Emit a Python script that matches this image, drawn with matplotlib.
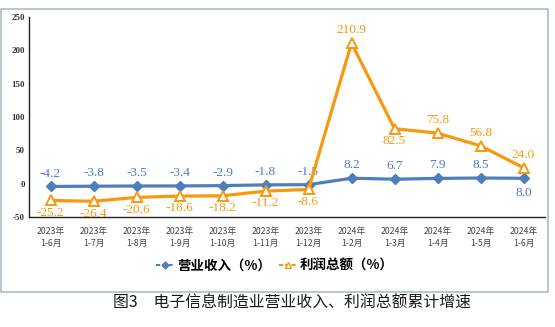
import matplotlib
matplotlib.use("Agg")
import matplotlib.pyplot as plt
from matplotlib.patches import Rectangle
from matplotlib.lines import Line2D

categories = ["2023年\n1-6月", "2023年\n1-7月", "2023年\n1-8月", "2023年\n1-9月", "2023年\n1-10月",
              "2023年\n1-11月", "2023年\n1-12月", "2024年\n1-2月", "2024年\n1-3月", "2024年\n1-4月",
              "2024年\n1-5月", "2024年\n1-6月"]
revenue = [-4.2, -3.8, -3.5, -3.4, -2.9, -1.8, -1.5, 8.2, 6.7, 7.9, 8.5, 8.0]
profit = [-25.2, -26.4, -20.6, -18.6, -18.2, -11.2, -8.6, 210.9, 82.5, 75.8, 56.8, 24.0]
revenue_label_pos = ["up"] * 11 + ["down"]
profit_label_pos = ["down"] * 7 + ["up", "down", "up", "up", "up"]
yticks = [-50, 0, 50, 100, 150, 200, 250]
series_names = ["营业收入（%）", "利润总额（%）"]
caption = "图3　电子信息制造业营业收入、利润总额累计增速"

plt.rcParams['font.family'] = ['Noto Sans CJK SC', 'DejaVu Sans']

W, H = 555, 327
fig = plt.figure(figsize=(W / 100, H / 100), dpi=100)
fig.patch.set_facecolor("white")

# outer box
fig.patches.append(Rectangle((1 / W, 1 - 292 / H), 547 / W, 283 / H, transform=fig.transFigure,
                             fill=False, edgecolor="#A9BCD0", linewidth=1.2))

ax = fig.add_axes([29 / W, 1 - 217 / H, 516 / W, 200 / H])
blue = "#4F7EBD"
orange = "#F7980F"
x = list(range(len(categories)))

ax.plot(x, revenue, color=blue, linewidth=2.3, marker="D", markersize=5,
        markerfacecolor=blue, markeredgecolor=blue, zorder=3)
ax.plot(x, profit, color=orange, linewidth=2.3, marker="^", markersize=7.5,
        markerfacecolor="white", markeredgecolor=orange, markeredgewidth=1.4, zorder=4)

for xi, v, p in zip(x, revenue, revenue_label_pos):
    off = 5 if p == "up" else -6
    ax.annotate(f"{v:.1f}", (xi, v), xytext=(0, off), textcoords="offset points",
                ha="center", va="bottom" if p == "up" else "top", color=blue,
                fontsize=9.5, family="Liberation Serif")
for xi, v, p in zip(x, profit, profit_label_pos):
    off = 5 if p == "up" else -4.5
    ax.annotate(f"{v:.1f}", (xi, v), xytext=(0, off), textcoords="offset points",
                ha="center", va="bottom" if p == "up" else "top", color=orange,
                fontsize=9.5, family="Liberation Serif")

ax.set_xlim(-0.5, len(categories) - 0.5)
ax.set_ylim(-50, 250)
ax.set_yticks(yticks)
ax.set_yticklabels([str(t) for t in yticks], family="Liberation Serif", fontsize=6.5,
                   fontweight="bold", color="#333333")
ax.set_xticks(x)
ax.set_xticklabels(categories, fontsize=6.3, color="#444444", linespacing=1.45)
ax.tick_params(axis="x", length=0, pad=7)
ax.tick_params(axis="y", length=0, pad=3)
for s in ["top", "right"]:
    ax.spines[s].set_visible(False)
ax.spines["left"].set_color("#222222")
ax.spines["bottom"].set_color("#222222")
ax.spines["left"].set_linewidth(1.0)
ax.spines["bottom"].set_linewidth(1.0)
ax.set_facecolor("none")

handles = [Line2D([], [], color=blue, linewidth=1.5, marker="D", markersize=3.5, linestyle=(0, (2, 1))),
           Line2D([], [], color=orange, linewidth=1.5, marker="^", markersize=4.5,
                  markerfacecolor="white", markeredgecolor=orange, linestyle=(0, (2, 1)))]
leg = fig.legend(handles, series_names, loc="center", bbox_to_anchor=(275 / W, 1 - 266 / H),
                 ncol=2, frameon=False, handlelength=1.3, handletextpad=0.25,
                 columnspacing=0.6, prop={"weight": "bold", "size": 9.7})

fig.text(113 / W, 1 - 303 / H, caption, fontsize=11.4, va="center", ha="left", color="#1a1a1a")

fig.savefig("out.png", dpi=100)
